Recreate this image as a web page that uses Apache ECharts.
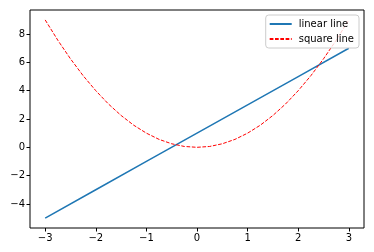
<!DOCTYPE html>
<html><head><meta charset="utf-8">
<script src="https://cdn.jsdelivr.net/npm/echarts@6/dist/echarts.min.js"></script>
<style>html,body{margin:0;padding:0;background:#fff}#c{width:374px;height:252px}</style>
</head><body><div id="c"></div>
<script>
const xTicks = [-3, -2, -1, 0, 1, 2, 3];
const yTicks = [-4, -2, 0, 2, 4, 6, 8];
const linearX = [-3, -2, -1, 0, 1, 2, 3];
const linearY = [-5, -3, -1, 1, 3, 5, 7];
const squareX = [-3, -2.75, -2.5, -2.25, -2, -1.75, -1.5, -1.25, -1, -0.75, -0.5, -0.25, 0, 0.25, 0.5, 0.75, 1, 1.25, 1.5, 1.75, 2, 2.25, 2.5, 2.75, 3];
const squareY = [9, 7.56, 6.25, 5.06, 4, 3.06, 2.25, 1.56, 1, 0.56, 0.25, 0.06, 0, 0.06, 0.25, 0.56, 1, 1.56, 2.25, 3.06, 4, 5.06, 6.25, 7.56, 9];

const font = 'DejaVu Sans';
const fmt = v => String(v).replace('-', '\u2212');
const chart = echarts.init(document.getElementById('c'), null, {renderer: 'canvas'});
chart.setOption({
  animation: false,
  grid: {left: 30, right: 10, top: 10, bottom: 24, show: true, borderColor: '#000', borderWidth: 1, backgroundColor: 'transparent'},
  xAxis: {
    type: 'value', min: -3.3, max: 3.3,
    axisLine: {show: false, onZero: false},
    splitLine: {show: false},
    axisTick: {show: true, length: 3.5, lineStyle: {color: '#000', width: 1}, customValues: xTicks},
    axisLabel: {color: '#000', fontFamily: font, fontSize: 10, margin: 5, customValues: xTicks, formatter: fmt}
  },
  yAxis: {
    type: 'value', min: -5.7, max: 9.7,
    axisLine: {show: false, onZero: false},
    splitLine: {show: false},
    axisTick: {show: true, length: 3.5, lineStyle: {color: '#000', width: 1}, customValues: yTicks},
    axisLabel: {color: '#000', fontFamily: font, fontSize: 10, margin: 5, customValues: yTicks, formatter: fmt}
  },
  legend: {
    orient: 'vertical', right: 15, top: 15,
    backgroundColor: 'rgba(255,255,255,0.8)', borderColor: '#cccccc', borderWidth: 1, borderRadius: 3,
    padding: [4, 5, 4, 3], itemGap: 5, itemWidth: 22, itemHeight: 10,
    itemStyle: {opacity: 0},
    textStyle: {fontFamily: font, fontSize: 10, color: '#000', padding: [0, 0, 0, 2]},
    data: ['linear line', 'square line']
  },
  series: [
    {name: 'linear line', type: 'line', symbol: 'none', z: 2,
     data: linearX.map((x, i) => [x, linearY[i]]),
     lineStyle: {color: '#1f77b4', width: 1.5}, itemStyle: {color: '#1f77b4'}},
    {name: 'square line', type: 'line', symbol: 'none', z: 3,
     data: squareX.map((x, i) => [x, squareY[i]]),
     lineStyle: {color: '#ff0000', width: 1, type: [3.7, 1.6]}, itemStyle: {color: '#ff0000'}}
  ]
});
</script></body></html>
